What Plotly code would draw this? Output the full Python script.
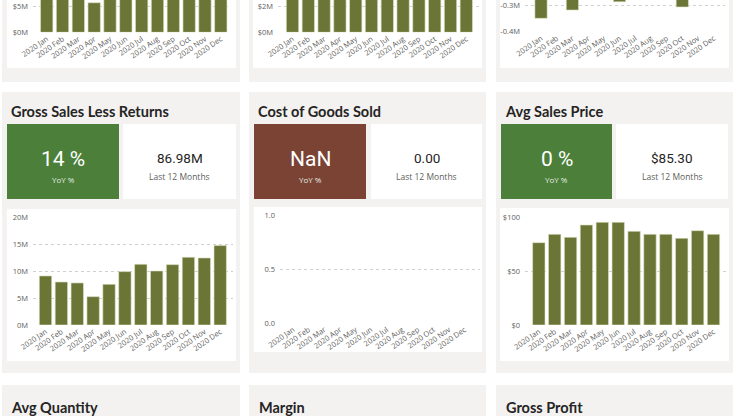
import plotly.graph_objects as go

W, H = 740, 416

# ---------------- data ----------------
months = ["2020 Jan", "2020 Feb", "2020 Mar", "2020 Apr", "2020 May", "2020 Jun",
          "2020 Jul", "2020 Aug", "2020 Sep", "2020 Oct", "2020 Nov", "2020 Dec"]

gross_sales = [9.49e6, 8.28e6, 8.16e6, 5.62e6, 7.85e6, 10.2e6,
               11.6e6, 10.3e6, 11.5e6, 12.9e6, 12.7e6, 15.1e6]
net_sales = [4.1e6, 3.6e6, 3.5e6, 2.9e6, 3.4e6, 4.4e6,
             5.0e6, 4.5e6, 5.0e6, 5.6e6, 5.5e6, 6.5e6]
returns = [-0.350e6, -0.26e6, -0.319e6, -0.25e6, -0.22e6, -0.288e6,
           -0.24e6, -0.21e6, -0.26e6, -0.3075e6, -0.23e6, -0.27e6]
gross_sales_less_returns = [9.14e6, 8.02e6, 7.84e6, 5.28e6, 7.59e6, 9.95e6,
                            11.32e6, 10.07e6, 11.25e6, 12.63e6, 12.5e6, 14.8e6]
cost_of_goods_sold = [0, 0, 0, 0, 0, 0, 0, 0, 0, 0, 0, 0]
avg_sales_price = [76.7, 84.5, 81.7, 93.2, 95.7, 95.7, 87.3, 84.5, 84.5, 80.8, 87.9, 84.5]

row2_titles = ["Gross Sales Less Returns", "Cost of Goods Sold", "Avg Sales Price"]
row3_titles = ["Avg Quantity", "Margin", "Gross Profit"]
kpi_yoy = ["14 %", "NaN", "0 %"]
kpi_value = ["86.98M", "0.00", "$85.30"]

tl_ticks, tl_text = [0, 5e6], ["$0M", "$5M"]
tm_ticks, tm_text = [0, 2e6], ["$0M", "$2M"]
tr_ticks, tr_text = [-0.4e6, -0.3e6], ["-0.4M", "-0.3M"]
bl_ticks, bl_text = [0, 5e6, 10e6, 15e6, 20e6], ["0M", "5M", "10M", "15M", "20M"]
bm_ticks, bm_text = [0, 0.5, 1.0], ["0.0", "0.5", "1.0"]
br_ticks, br_text = [0, 50, 100], ["$0", "$50", "$100"]

# ---------------- styles ----------------
PANEL = "#f3f2f1"
CARD = "#ffffff"
OLIVE = "#6b7535"
GREEN = "#4b7f3a"
BROWN = "#7a4334"
GRID = "#d2d0ce"
TICK = "#605e5c"
TITLE = "#252423"
UI_FONT = "Open Sans"
TITLE_FONT = "Lato"
NUM_FONT = "Roboto"

shapes, annotations = [], []


def rect(x0, y0, x1, y1, color):
    shapes.append(dict(type="rect", xref="paper", yref="paper",
                       x0=x0 / W, x1=x1 / W, y0=1 - y1 / H, y1=1 - y0 / H,
                       fillcolor=color, line_width=0, layer="below"))


def text(x, y, s, size, color, family, weight="normal", xanchor="center"):
    annotations.append(dict(xref="paper", yref="paper", x=x / W, y=1 - y / H,
                            text=s, showarrow=False, xanchor=xanchor, yanchor="middle",
                            borderpad=0,
                            font=dict(size=size, color=color, family=family, weight=weight)))


cols_panel = [(2, 240), (249, 486), (496, 733)]
cols_card = [(7, 236), (253, 482), (500, 729)]

# row 1 panels
for (px0, px1), (cx0, cx1) in zip(cols_panel, cols_card):
    rect(px0, -5, px1, 82, PANEL)
    rect(cx0, -5, cx1, 68, CARD)

# row 2 panels
kpi_boxes = [((7, 119), (123, 236)), ((254, 366), (371, 482)), ((501, 612), (616, 728))]
kpi_colors = [GREEN, BROWN, GREEN]
title_x = [10, 257, 504]
chart_cards = [(7, 209, 236, 361), (254, 207, 482, 352), (500, 208, 729, 361)]
for i in range(3):
    px0, px1 = cols_panel[i]
    rect(px0, 92, px1, 373, PANEL)
    text(title_x[i], 111.5, row2_titles[i], 14.5, TITLE, TITLE_FONT, "bold", "left")
    (bx0, bx1), (wx0, wx1) = kpi_boxes[i]
    rect(bx0, 124, bx1, 199, kpi_colors[i])
    rect(wx0, 124, wx1, 199, CARD)
    bc = (bx0 + bx1) / 2
    wc = (wx0 + wx1) / 2
    text(bc, 159, kpi_yoy[i], 21, "#ffffff", NUM_FONT)
    text(bc, 179.5, "YoY %", 8, "#e6ece3", UI_FONT)
    text(wc, 158, kpi_value[i], 13.5, TITLE, NUM_FONT)
    text(wc, 176, "Last 12 Months", 8.5, TICK, UI_FONT)
    x0, y0, x1, y1 = chart_cards[i]
    rect(x0, y0, x1, y1, CARD)

# row 3 panels
title3_x = [10, 258, 505]
for i in range(3):
    px0, px1 = cols_panel[i]
    rect(px0, 385, px1, 425, PANEL)
    text(title3_x[i], 407, row3_titles[i], 14.5, TITLE, TITLE_FONT, "bold", "left")

# ---------------- charts ----------------
# (values, x-domain px, y-domain px (top, bottom), xrange, yrange, tickvals, ticktext, outline)
charts = [
    (gross_sales, (33, 231), (0, 32.3), (-0.865, 11.644), (0, 5e6 * 32.3 / 26.3), tl_ticks, tl_text, 0.6),
    (net_sales, (278, 480), (0, 32.3), (-0.918, 11.867), (0, 2e6 * 32.3 / 25.6), tm_ticks, tm_text, 0.6),
    (returns, (525, 725), (0, 31.7), (-1.02, 11.72), (-0.4e6, -0.4e6 + 0.1e6 * 31.7 / 26.7), tr_ticks, tr_text, 0.6),
    (gross_sales_less_returns, (33, 233), (217.7, 325), (-0.787, 11.806), (0, 20e6), bl_ticks, bl_text, 0.6),
    (cost_of_goods_sold, (280, 480), (215.7, 323), (-0.834, 11.99), (0, 1.0), bm_ticks, bm_text, 0),
    (avg_sales_price, (525, 727), (217.7, 325), (-0.869, 11.85), (0, 100), br_ticks, br_text, 0.6),
]

fig = go.Figure()
layout_axes = {}
for i, (vals, dx, dy, xr, yr, tv, tt, lw) in enumerate(charts, start=1):
    sfx = "" if i == 1 else str(i)
    fig.add_trace(go.Bar(x=months, y=vals, xaxis="x" + sfx, yaxis="y" + sfx,
                         marker=dict(color=OLIVE, line=dict(color="#dfe2c8", width=lw)),
                         hoverinfo="skip", showlegend=False))
    layout_axes["xaxis" + sfx] = dict(
        domain=[dx[0] / W, dx[1] / W], range=list(xr), type="category",
        tickmode="array", tickvals=months, ticktext=months, tickangle=-35,
        tickfont=dict(size=7.5, color=TICK, family=UI_FONT),
        showgrid=False, zeroline=False, showline=False, ticks="",
        ticklabeloverflow="allow",
        automargin=False, anchor="y" + sfx, fixedrange=True)
    layout_axes["yaxis" + sfx] = dict(
        domain=[1 - dy[1] / H, 1 - dy[0] / H], range=list(yr),
        tickmode="array", tickvals=tv, ticktext=tt,
        tickfont=dict(size=7.5, color=TICK, family=UI_FONT),
        showgrid=True, gridcolor=GRID, griddash="dot", gridwidth=1,
        zeroline=False, showline=False, ticks="", ticklabelstandoff=4,
        ticklabeloverflow="allow",
        automargin=False, anchor="x" + sfx, fixedrange=True)

fig.update_layout(
    width=W, height=H, margin=dict(l=0, r=0, t=0, b=0, autoexpand=False),
    paper_bgcolor="#ffffff", plot_bgcolor="rgba(0,0,0,0)",
    bargap=0.22, shapes=shapes, annotations=annotations,
    **layout_axes)

fig.write_html("out.html", config={"displayModeBar": False},
               post_script="document.body.style.margin='0';document.body.style.overflow='hidden';")
